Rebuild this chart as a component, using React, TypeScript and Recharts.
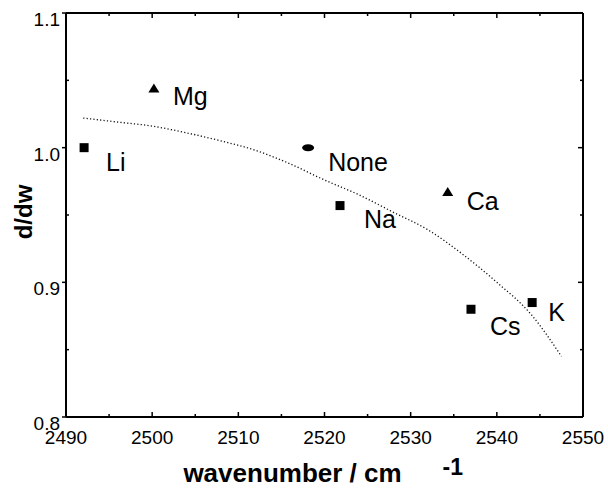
import { ScatterChart, Scatter, XAxis, YAxis } from 'recharts'

const FONT = '"Liberation Sans", Arial, Helvetica, sans-serif'

// counter-ion points
const squareIons = ['Li', 'Na', 'Cs', 'K']
const squareWavenumber = [2492.1, 2521.8, 2537.0, 2544.1]
const squareSlope = [1.0, 0.957, 0.88, 0.885]

const triangleIons = ['Mg', 'Ca']
const triangleWavenumber = [2500.2, 2534.3]
const triangleSlope = [1.044, 0.967]

const noneIons = ['None']
const noneWavenumber = [2518.1]
const noneSlope = [1.0]

// dotted fit curve
const fitWavenumber = [2492, 2496, 2500, 2504, 2508, 2512, 2516, 2520, 2524, 2528, 2532, 2536, 2540, 2544, 2547.5]
const fitSlope = [1.022, 1.019, 1.016, 1.011, 1.005, 0.998, 0.988, 0.976, 0.965, 0.952, 0.939, 0.921, 0.9, 0.876, 0.845]

const xTicks = [2490, 2495, 2500, 2505, 2510, 2515, 2520, 2525, 2530, 2535, 2540, 2545, 2550]
const yTicks = [0.8, 0.85, 0.9, 0.95, 1.0, 1.05, 1.1]

// where each ion name sits relative to its marker (dx, baseline dy)
const labelOffset: Record<string, [number, number]> = {
  Li: [22, 23],
  Mg: [19, 17],
  None: [20, 23],
  Na: [24, 22],
  Ca: [19, 18],
  Cs: [19, 26],
  K: [16, 18],
}

const toPoints = (names: string[], xs: number[], ys: number[]) =>
  xs.map((x, i) => ({ name: names[i], x, y: ys[i] }))

const squares = toPoints(squareIons, squareWavenumber, squareSlope)
const triangles = toPoints(triangleIons, triangleWavenumber, triangleSlope)
const none = toPoints(noneIons, noneWavenumber, noneSlope)
const fit = fitWavenumber.map((x, i) => ({ x, y: fitSlope[i] }))

const isMajorX = (v: number) => v % 10 === 0
const isMajorY = (v: number) => Math.abs(v * 10 - Math.round(v * 10)) < 1e-6

function BottomTick({ x, y, payload }: any) {
  const major = isMajorX(payload.value)
  return (
    <g>
      <line x1={x} x2={x} y1={y} y2={y - (major ? 5 : 3)} stroke="#000" strokeWidth={1.5} />
      {major && (
        <text x={x} y={y + 27} textAnchor="middle" fontSize={19} fontFamily={FONT} fill="#000">
          {payload.value}
        </text>
      )}
    </g>
  )
}

function TopTick({ x, y, payload }: any) {
  const major = isMajorX(payload.value)
  return <line x1={x} x2={x} y1={y} y2={y + (major ? 5 : 3)} stroke="#000" strokeWidth={1.5} />
}

function LeftTick({ x, y, payload }: any) {
  const major = isMajorY(payload.value)
  return (
    <g>
      {major ? (
        <line x1={x} x2={x - 4} y1={y} y2={y} stroke="#000" strokeWidth={1.5} />
      ) : (
        <line x1={x} x2={x + 3} y1={y} y2={y} stroke="#000" strokeWidth={1.5} />
      )}
      {major && (
        <text x={x - 6} y={y + 13} textAnchor="end" fontSize={19} fontFamily={FONT} fill="#000">
          {payload.value.toFixed(1)}
        </text>
      )}
    </g>
  )
}

function RightTick({ x, y, payload }: any) {
  const major = isMajorY(payload.value)
  return <line x1={x} x2={x - (major ? 5 : 3)} y1={y} y2={y} stroke="#000" strokeWidth={1.5} />
}

function ionShape(kind: 'square' | 'triangle' | 'ellipse') {
  return (props: any) => {
    const { cx, cy, payload } = props
    const [dx, dy] = labelOffset[payload.name] || [20, 20]
    let mark
    if (kind === 'square') {
      mark = <rect x={cx - 4.5} y={cy - 4.5} width={9} height={9} fill="#000" />
    } else if (kind === 'triangle') {
      mark = <polygon points={`${cx},${cy - 5} ${cx - 5.5},${cy + 4} ${cx + 5.5},${cy + 4}`} fill="#000" />
    } else {
      mark = <ellipse cx={cx} cy={cy} rx={6} ry={3.5} fill="#000" />
    }
    return (
      <g>
        {mark}
        <text x={cx + dx} y={cy + dy} fontSize={25} fontFamily={FONT} fill="#000">
          {payload.name}
        </text>
      </g>
    )
  }
}

function XTitle(props: any) {
  const vb = props.viewBox
  const cx = vb.x + vb.width / 2
  return (
    <g fontFamily={FONT} fontWeight="bold" fill="#000">
      <text x={cx - 32} y={vb.y + 65} textAnchor="middle" fontSize={26}>
        wavenumber / cm
      </text>
      <text x={cx + 118} y={vb.y + 58} textAnchor="start" fontSize={23}>
        -1
      </text>
    </g>
  )
}

function YTitle(props: any) {
  const vb = props.viewBox
  const x = vb.x + 32
  const y = vb.y + vb.height / 2 - 3
  return (
    <text
      x={x}
      y={y}
      transform={`rotate(-90, ${x}, ${y})`}
      textAnchor="middle"
      fontSize={24}
      fontWeight="bold"
      fontFamily={FONT}
      fill="#000"
    >
      d/dw
    </text>
  )
}

const axisLine = { stroke: '#000', strokeWidth: 2 }

export default function App() {
  return (
    <div style={{ position: 'absolute', left: 0, top: 0, background: '#fff' }}>
      <ScatterChart width={608} height={488} margin={{ top: 0, right: 0, bottom: 0, left: 0 }}>
        <XAxis
          xAxisId="bottom"
          orientation="bottom"
          type="number"
          dataKey="x"
          domain={[2490, 2550]}
          ticks={xTicks}
          interval={0}
          allowDataOverflow
          height={71}
          axisLine={axisLine}
          tickLine={false}
          tickSize={0}
          tickMargin={0}
          tick={BottomTick}
          label={{ content: XTitle }}
        />
        <XAxis
          xAxisId="top"
          orientation="top"
          type="number"
          dataKey="x"
          domain={[2490, 2550]}
          ticks={xTicks}
          interval={0}
          allowDataOverflow
          height={13}
          axisLine={axisLine}
          tickLine={false}
          tickSize={0}
          tickMargin={0}
          tick={TopTick}
        />
        <YAxis
          yAxisId="left"
          orientation="left"
          type="number"
          dataKey="y"
          domain={[0.8, 1.1]}
          ticks={yTicks}
          interval={0}
          allowDataOverflow
          width={66}
          axisLine={axisLine}
          tickLine={false}
          tickSize={0}
          tickMargin={0}
          tick={LeftTick}
          label={{ content: YTitle }}
        />
        <YAxis
          yAxisId="right"
          orientation="right"
          type="number"
          dataKey="y"
          domain={[0.8, 1.1]}
          ticks={yTicks}
          interval={0}
          allowDataOverflow
          width={25}
          axisLine={axisLine}
          tickLine={false}
          tickSize={0}
          tickMargin={0}
          tick={RightTick}
        />
        <Scatter
          xAxisId="bottom"
          yAxisId="left"
          data={fit}
          line={{ stroke: '#111', strokeWidth: 1.3, strokeDasharray: '1.2 2.2' }}
          lineJointType="monotoneX"
          shape={() => <g />}
          isAnimationActive={false}
        />
        <Scatter xAxisId="bottom" yAxisId="left" data={squares} shape={ionShape('square')} isAnimationActive={false} />
        <Scatter xAxisId="bottom" yAxisId="left" data={triangles} shape={ionShape('triangle')} isAnimationActive={false} />
        <Scatter xAxisId="bottom" yAxisId="left" data={none} shape={ionShape('ellipse')} isAnimationActive={false} />
      </ScatterChart>
    </div>
  )
}
